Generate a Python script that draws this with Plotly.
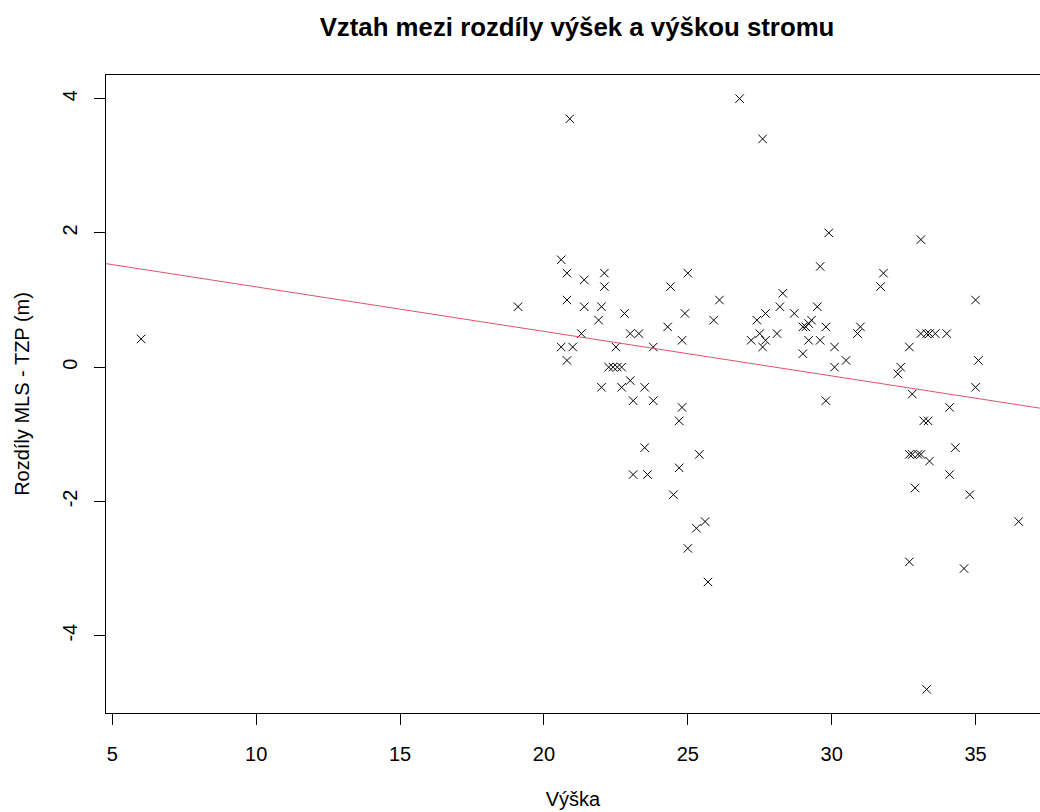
import numpy as np
import plotly.graph_objects as go

# Tree height (Výška) and height difference MLS - TZP (m)
vyska = [6.0, 19.1, 20.6, 20.8, 20.8, 20.6, 21.0, 20.8, 20.9, 21.3,
         21.4, 21.4, 21.9, 22.0, 22.1, 22.1, 22.0, 22.25, 22.4, 22.55,
         22.7, 22.5, 22.8, 22.7, 23.0, 23.0, 23.3, 23.1, 23.5, 23.8,
         23.8, 23.5, 23.1, 23.6, 24.3, 24.4, 24.8, 24.9, 25.0, 24.8,
         24.7, 24.7, 24.5, 25.0, 25.4, 25.3, 25.6, 25.7, 25.9, 26.1,
         26.8, 27.6, 27.2, 27.4, 27.5, 27.6, 27.7, 27.7, 28.1, 28.2,
         28.3, 28.7, 29.0, 29.0, 29.1, 29.2, 29.2, 29.3, 29.5, 29.6,
         29.6, 29.8, 29.8, 29.9, 30.1, 30.1, 30.5, 30.9, 31.0, 31.7,
         31.8, 32.3, 32.4, 32.7, 32.8, 33.1, 33.1, 33.3, 33.4, 33.6,
         34.0, 35.0, 35.1, 35.0, 34.1, 33.2, 33.35, 34.3, 32.7, 32.8,
         33.0, 33.1, 33.4, 34.1, 32.9, 34.8, 36.5, 32.7, 34.6, 33.3]
rozdil = [0.42, 0.9, 1.6, 1.4, 1.0, 0.3, 0.3, 0.1, 3.7, 0.5,
          1.3, 0.9, 0.7, 0.9, 1.4, 1.2, -0.3, 0.0, 0.0, 0.0,
          0.0, 0.3, 0.8, -0.3, -0.2, 0.5, 0.5, -0.5, -0.3, 0.3,
          -0.5, -1.2, -1.6, -1.6, 0.6, 1.2, 0.4, 0.8, 1.4, -0.6,
          -0.8, -1.5, -1.9, -2.7, -1.3, -2.4, -2.3, -3.2, 0.7, 1.0,
          4.0, 3.4, 0.4, 0.7, 0.5, 0.3, 0.4, 0.8, 0.5, 0.9,
          1.1, 0.8, 0.2, 0.6, 0.6, 0.65, 0.4, 0.7, 0.9, 1.5,
          0.4, 0.6, -0.5, 2.0, 0.3, 0.0, 0.1, 0.5, 0.6, 1.2,
          1.4, -0.1, 0.0, 0.3, -0.4, 1.9, 0.5, 0.5, 0.5, 0.5,
          0.5, 1.0, 0.1, -0.3, -0.6, -0.8, -0.8, -1.2, -1.3, -1.3,
          -1.3, -1.3, -1.4, -1.6, -1.8, -1.9, -2.3, -2.9, -3.0, -4.8]

x_tick_vals = [5, 10, 15, 20, 25, 30, 35]
x_tick_text = ["5", "10", "15", "20", "25", "30", "35"]
y_tick_vals = [-4, -2, 0, 2, 4]
y_tick_text = ["-4", "-2", "0", "2", "4"]

title_text = "Vztah mezi rozdíly výšek a výškou stromu"
x_title = "Výška"
y_title = "Rozdíly MLS - TZP (m)"

x = np.array(vyska)
y = np.array(rozdil)

# R-style axis ranges (4% extension); the right side of the picture is cut off
xpad = 0.04 * (x.max() - x.min())
ypad = 0.04 * (y.max() - y.min())
x_range = [x.min() - xpad, 37.24]
y_range = [y.min() - ypad, y.max() + ypad]

# linear fit (abline(lm(y ~ x)))
slope, intercept = np.polyfit(x, y, 1)
line_x = np.array(x_range)
line_y = intercept + slope * line_x

font_family = "Liberation Sans, Arial, sans-serif"

W, H = 1040, 812
ML, MT = 106, 75
MB = H - MT - 638

fig = go.Figure()
fig.add_trace(go.Scatter(
    x=vyska, y=rozdil, mode="markers",
    marker=dict(symbol="x-thin", size=8.5, color="black",
                line=dict(color="black", width=1)),
    showlegend=False,
))
fig.add_trace(go.Scatter(
    x=line_x, y=line_y, mode="lines",
    line=dict(color="#DF536B", width=1),
    showlegend=False,
))

fig.update_layout(
    width=W, height=H,
    margin=dict(l=ML, r=0, t=MT, b=MB, autoexpand=False),
    paper_bgcolor="white", plot_bgcolor="white",
    font=dict(family=font_family, color="black", size=20),
    title=dict(text="<b>" + title_text + "</b>", x=577 / W,
               xanchor="center", y=1 - 27 / H, yanchor="middle",
               font=dict(size=25.8, family=font_family, color="black")),
)
fig.update_xaxes(
    range=x_range, showgrid=False, zeroline=False,
    showline=True, linecolor="black", linewidth=1, mirror=True,
    ticks="outside", ticklen=11, tickcolor="black", tickwidth=1,
    tickvals=x_tick_vals, ticktext=x_tick_text,
    ticklabelstandoff=12,
    title=dict(text=x_title, standoff=27, font=dict(size=20)),
)
fig.update_yaxes(
    range=y_range, showgrid=False, zeroline=False,
    showline=True, linecolor="black", linewidth=1, mirror=False,
    ticks="outside", ticklen=11, tickcolor="black", tickwidth=1,
    tickvals=y_tick_vals, ticktext=y_tick_text, tickangle=-90,
    ticklabelstandoff=9,
    title=dict(text=y_title, standoff=24, font=dict(size=20)),
)

fig.write_html(
    "out.html",
    config={"displayModeBar": False},
    post_script="document.body.style.margin='0';"
                "document.body.style.overflow='hidden';",
)
